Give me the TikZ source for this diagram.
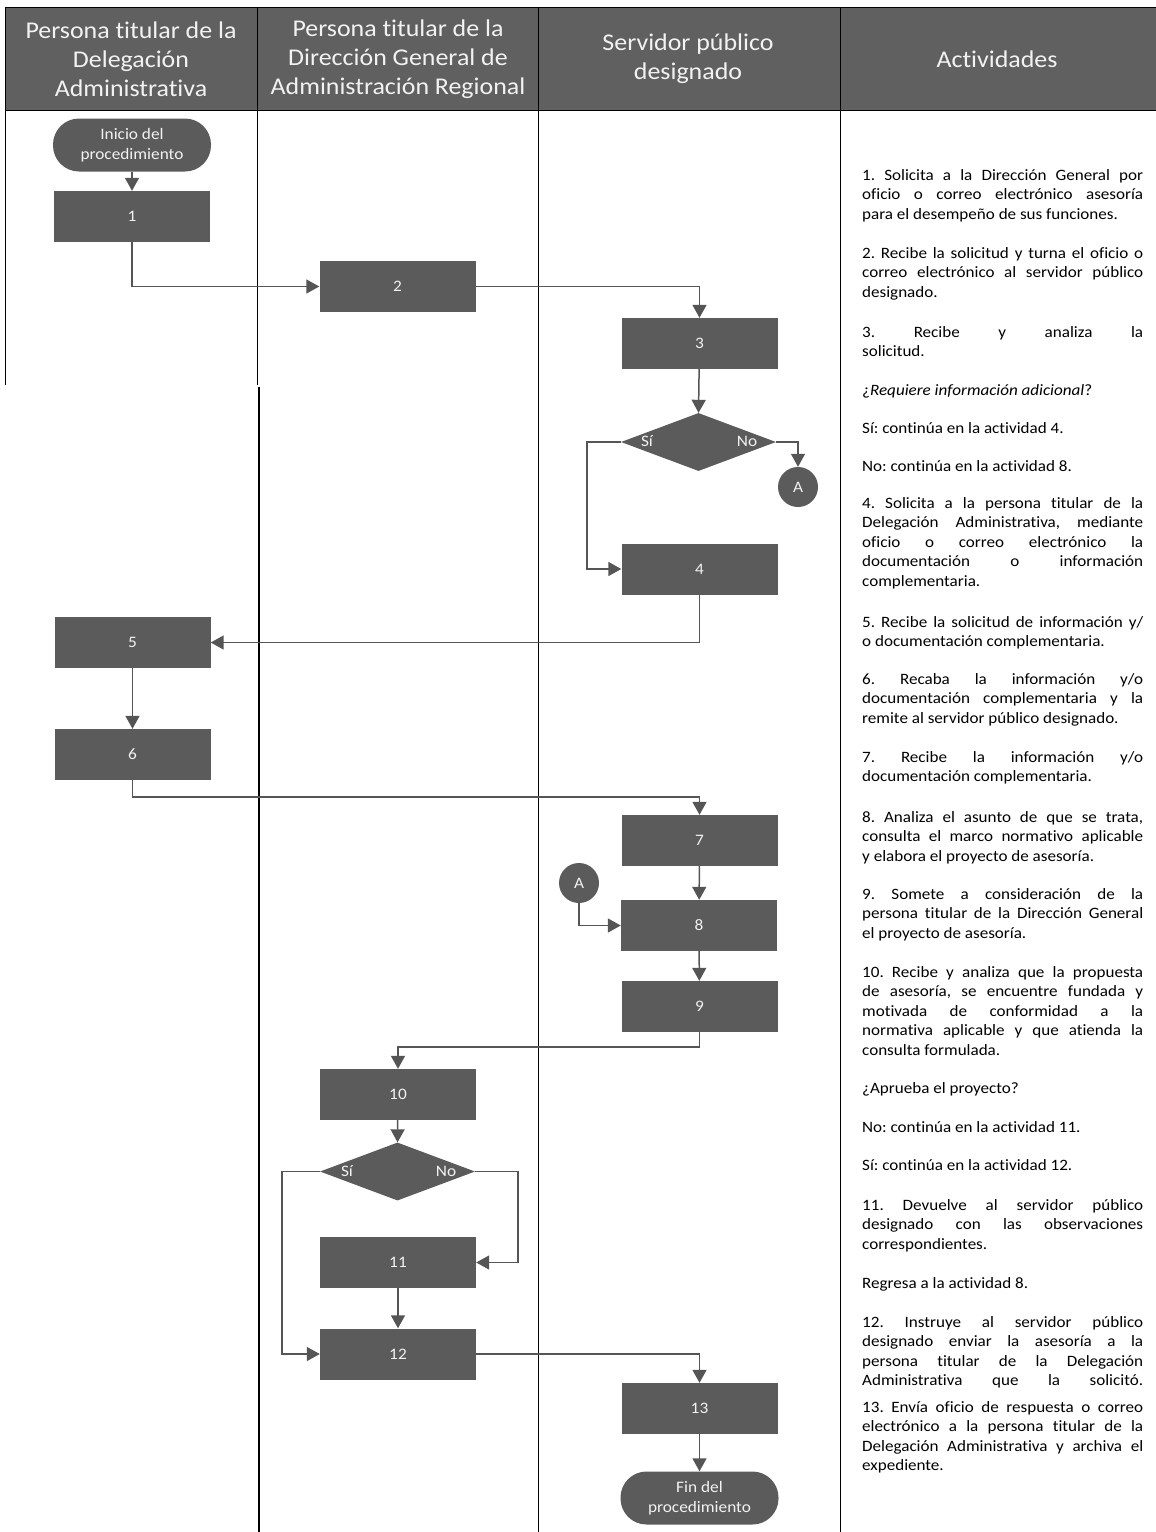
\documentclass[tikz,border=0pt]{standalone}
\usepackage{fontspec}
\setmainfont[FakeStretch=1.08, Ligatures={NoCommon}]{Carlito}
\usetikzlibrary{arrows.meta,shapes.geometric}
\definecolor{boxfill}{HTML}{5B5B5B}
\definecolor{linec}{HTML}{555555}
\definecolor{hdrfill}{HTML}{606060}
\definecolor{txtc}{HTML}{F2F2F2}
\frenchspacing
\tikzset{
  hdr/.style={text=txtc, font=\fontsize{24}{29}\selectfont, align=center, inner sep=0pt},
  procbox/.style={rectangle, fill=boxfill, draw=none, minimum width=156pt, minimum height=51pt, inner sep=0pt, text=txtc, font=\fontsize{16}{20}\selectfont},
  termbox/.style={rectangle, rounded corners=26pt, fill=boxfill, draw=none, minimum width=158pt, minimum height=53pt, inner sep=0pt, text=txtc, align=center, font=\fontsize{16}{20}\selectfont},
  decbox/.style={diamond, fill=boxfill, draw=none, minimum width=155pt, minimum height=58pt, inner sep=0pt},
  conn/.style={circle, fill=boxfill, draw=none, minimum size=40pt, inner sep=0pt, text=txtc, font=\fontsize{16}{20}\selectfont},
  declab/.style={text=txtc, font=\fontsize{16}{19}\selectfont, inner sep=0pt},
  flow/.style={draw=linec, line width=1.5pt, -{Triangle[length=13pt,width=14pt]}},
  act/.style={anchor=base west, text width=281pt, align=justify, inner sep=0pt, font=\fontsize{15.8}{19.6}\selectfont},
  lane/.style={draw=black, line width=1pt}
}
\begin{document}
\begin{tikzpicture}[x=1pt,y=-1pt]
\fill[white] (0,0) rectangle (1156,1532);
\useasboundingbox (0,0) rectangle (1156,1532);
% header
\fill[hdrfill] (5,7) rectangle (1156,110);
\draw[lane] (1156,7) -- (5,7) -- (5,110) -- (1156,110);
\draw[lane] (257,7) -- (257,385);
\draw[lane] (5,110) -- (5,385);
\draw[draw=black, line width=2pt] (259,387) -- (259,1532);
\draw[lane] (538,7) -- (538,1532);
\draw[lane] (840,7) -- (840,1532);
\node[hdr] (h1) at (131,59) {Persona titular de la\\Delegación\\Administrativa};
\node[hdr] (h2) at (398,59) {Persona titular de la\\Dirección General de\\Administración Regional};
\node[hdr] (h3) at (688,59) {Servidor público\\designado};
\node[hdr] (h4) at (997,59) {Actividades};
% flow nodes
\node[termbox] (start) at (132,145) {Inicio del\\procedimiento};
\node[procbox] (b1) at (132,216.5) {1};
\node[procbox] (b2) at (397.5,286.5) {2};
\node[procbox] (b3) at (699.5,343.5) {3};
\node[decbox] (d1) at (698.5,442) {};
\node[declab] (d1s) at (647,441) {Sí};
\node[declab] (d1n) at (747,441) {No};
\node[conn] (A1) at (798,487) {A};
\node[procbox] (b4) at (699.5,569) {4};
\node[procbox] (b5) at (132.5,642.5) {5};
\node[procbox] (b6) at (132.5,754.5) {6};
\node[procbox] (b7) at (699.5,840.5) {7};
\node[conn] (A2) at (579,883) {A};
\node[procbox] (b8) at (699,925.5) {8};
\node[procbox] (b9) at (699.5,1006.5) {9};
\node[procbox] (b10) at (398,1094.5) {10};
\node[decbox] (d2) at (397.5,1171.5) {};
\node[declab] (d2s) at (347,1171) {Sí};
\node[declab] (d2n) at (446,1171) {No};
\node[procbox] (b11) at (398,1262.5) {11};
\node[procbox] (b12) at (398,1354) {12};
\node[procbox] (b13) at (699.5,1408.5) {13};
\node[termbox] (fin) at (699.5,1498) {Fin del\\procedimiento};
% connectors
\draw[flow] (start) -- (b1);
\draw[flow] (b1.south) |- (b2.west);
\draw[flow] (b2.east) -| (b3.north);
\draw[flow] (b3) -- (d1.north);
\draw[flow] (d1.east) -| (A1.north);
\draw[flow] (d1.west) -- ++(-34,0) |- (b4.west);
\draw[flow] (b4.south) |- (b5.east);
\draw[flow] (b5) -- (b6);
\draw[flow] (b6.south) -- ++(0,17) -| (b7.north);
\draw[flow] (b7) -- (b8);
\draw[flow] (A2.south) |- (b8.west);
\draw[flow] (b8) -- (b9);
\draw[flow] (b9.south) -- ++(0,15) -| (b10.north);
\draw[flow] (b10) -- (d2.north);
\draw[flow] (d2.east) -- ++(43,0) |- (b11.east);
\draw[flow] (d2.west) -- ++(-38,0) |- (b12.west);
\draw[flow] (b11) -- (b12);
\draw[flow] (b12.east) -| (b13.north);
\draw[flow] (b13) -- (fin);
% activities
\node[act] (t1) at (862,180) {1. Solicita a la Dirección General por\linebreak oficio o correo electrónico asesoría\linebreak para el desempeño de sus funciones.};
\node[act] (t2) at (862,258) {2. Recibe la solicitud y turna el oficio o\linebreak correo electrónico al servidor público\linebreak designado.};
\node[act] (t3) at (862,337) {3. Recibe y analiza la\linebreak solicitud.};
\node[act] (t4) at (862,395) {¿\textit{Requiere información adicional}?};
\node[act] (t5) at (862,433) {Sí: continúa en la actividad 4.};
\node[act] (t6) at (862,471) {No: continúa en la actividad 8.};
\node[act] (t7) at (862,508) {4. Solicita a la persona titular de la\linebreak Delegación Administrativa, mediante\linebreak oficio o correo electrónico la\linebreak documentación o información\linebreak complementaria.};
\node[act] (t8) at (862,627) {5. Recibe la solicitud de información y/\linebreak o documentación complementaria.};
\node[act] (t9) at (862,684) {6. Recaba la información y/o\linebreak documentación complementaria y la\linebreak remite al servidor público designado.};
\node[act] (t10) at (862,762) {7. Recibe la información y/o\linebreak documentación complementaria.};
\node[act] (t11) at (862,822) {8. Analiza el asunto de que se trata,\linebreak consulta el marco normativo aplicable\linebreak y elabora el proyecto de asesoría.};
\node[act] (t12) at (862,899) {9. Somete a consideración de la\linebreak persona titular de la Dirección General\linebreak el proyecto de asesoría.};
\node[act] (t13) at (862,977) {10. Recibe y analiza que la propuesta\linebreak de asesoría, se encuentre fundada y\linebreak motivada de conformidad a la\linebreak normativa aplicable y que atienda la\linebreak consulta formulada.};
\node[act] (t14) at (862,1093) {¿Aprueba el proyecto?};
\node[act] (t15) at (862,1132) {No: continúa en la actividad 11.};
\node[act] (t16) at (862,1170) {Sí: continúa en la actividad 12.};
\node[act] (t17) at (862,1210) {11. Devuelve al servidor público\linebreak designado con las observaciones\linebreak correspondientes.};
\node[act] (t18) at (862,1288) {Regresa a la actividad 8.};
\node[act] (t19) at (862,1327) {12. Instruye al servidor público\linebreak designado enviar la asesoría a la\linebreak persona titular de la Delegación\linebreak \makebox[\linewidth][s]{Administrativa que la solicitó.}};
\node[act] (t20) at (862,1412) {13. Envía oficio de respuesta o correo\linebreak electrónico a la persona titular de la\linebreak Delegación Administrativa y archiva el\linebreak expediente.};
\end{tikzpicture}
\end{document}
